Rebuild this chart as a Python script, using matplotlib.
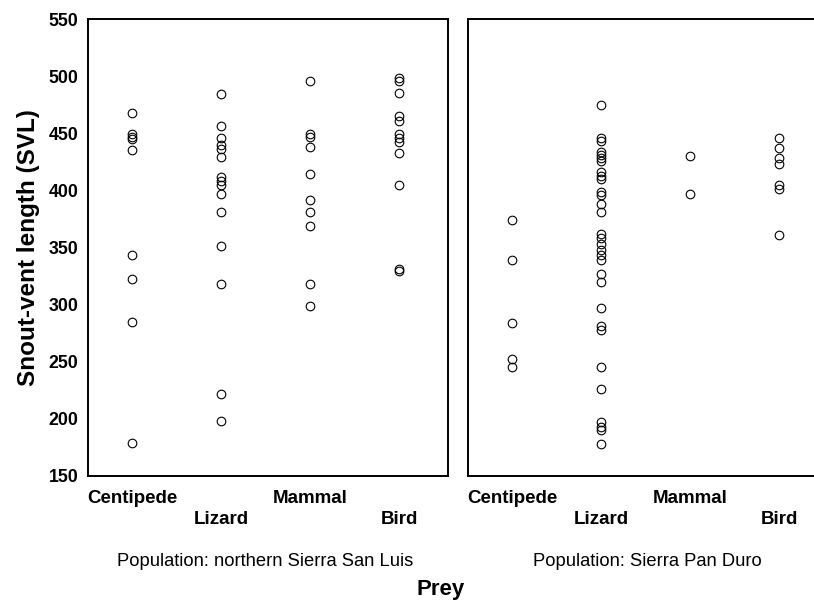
import matplotlib.pyplot as plt

plt.rcParams['font.family'] = ['Liberation Sans', 'DejaVu Sans']

prey = ["Centipede", "Lizard", "Mammal", "Bird"]
prey_labels = ["Centipede", "\nLizard", "Mammal", "\nBird"]

# northern Sierra San Luis
ssl_centipede = [468, 449, 447, 445, 435, 343, 322, 285, 179]
ssl_lizard = [484, 456, 446, 440, 436, 429, 412, 408, 405, 397, 381, 351, 318, 222, 198]
ssl_mammal = [496, 449, 447, 438, 414, 392, 381, 369, 318, 299]
ssl_bird = [498, 496, 485, 465, 461, 449, 446, 442, 433, 405, 331, 329]

# Sierra Pan Duro
spd_centipede = [374, 339, 284, 252, 245]
spd_lizard = [475, 446, 443, 434, 431, 428, 426, 416, 413, 410, 399, 396, 388, 381,
              362, 358, 353, 348, 343, 339, 327, 320, 297, 281, 278, 245, 226,
              197, 193, 190, 178]
spd_mammal = [430, 397]
spd_bird = [446, 437, 428, 423, 405, 401, 361]

populations = ["Population: northern Sierra San Luis", "Population: Sierra Pan Duro"]
groups = [[ssl_centipede, ssl_lizard, ssl_mammal, ssl_bird],
          [spd_centipede, spd_lizard, spd_mammal, spd_bird]]

W, H = 814, 610
fig = plt.figure(figsize=(W / 100, H / 100), dpi=100)
ax1 = fig.add_axes([88 / W, (H - 476) / H, 360 / W, 457 / H])
ax2 = fig.add_axes([468 / W, (H - 476) / H, 360 / W, 457 / H])

for ax, data, title, cx in zip([ax1, ax2], groups, populations, [265, 647]):
    for i, vals in enumerate(data):
        ax.plot([i + 1] * len(vals), vals, 'o', mfc='none', mec='black',
                ms=6.2, mew=0.8, clip_on=False)
    ax.set_xlim(0.5, 4.55)
    ax.set_ylim(150, 550)
    ax.set_xticks(range(1, len(prey) + 1))
    ax.set_xticklabels(prey_labels, fontsize=13.5, fontweight='bold', linespacing=1.3)
    ax.set_yticks(range(150, 551, 50))
    ax.tick_params(length=0, pad=7)
    ax.tick_params(axis='x', pad=10)
    for s in ax.spines.values():
        s.set_linewidth(1.4)
    fig.text(cx / W, 1 - 561 / H, title, ha='center', va='center', fontsize=13.2)

ax1.set_yticklabels(ax1.get_yticks(), fontsize=12.8, fontweight='bold')
ax2.set_yticklabels([])
ax1.set_ylabel("Snout-vent length (SVL)", fontsize=17.5, fontweight='bold', labelpad=6)

fig.text(441 / W, 1 - 590 / H, "Prey", ha='center', va='center', fontsize=16,
         fontweight='bold')

fig.savefig("out.png", dpi=100)
